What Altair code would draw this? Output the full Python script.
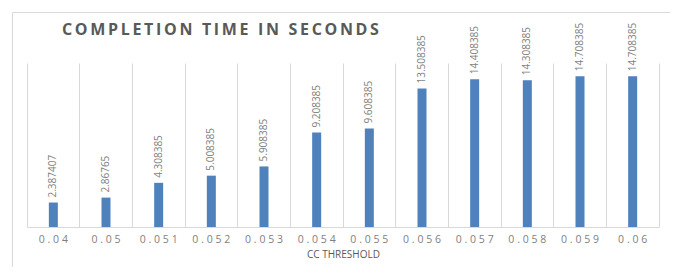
import altair as alt
import pandas as pd

categories = ["0.04", "0.05", "0.051", "0.052", "0.053", "0.054",
              "0.055", "0.056", "0.057", "0.058", "0.059", "0.06"]
values = [2.387407, 2.86765, 4.308385, 5.008385, 5.908385, 9.208385,
          9.608385, 13.508385, 14.408385, 14.308385, 14.708385, 14.708385]
value_labels = ["2.387407", "2.86765", "4.308385", "5.008385", "5.908385", "9.208385",
                "9.608385", "13.508385", "14.408385", "14.308385", "14.708385", "14.708385"]

title_text = "COMPLETION TIME IN SECONDS"
x_title = "CC THRESHOLD"

df = pd.DataFrame({"threshold": categories, "time": values, "label": value_labels})

GRAY = "#595959"
LIGHT = "#7f7f7f"
LINE = "#d9d9d9"
FONT = "Open Sans"

gap = "\u2006"
spaced_title = gap.join(list(title_text))

x_enc = alt.X(
    "threshold:N", sort=categories, title=x_title,
    scale=alt.Scale(paddingInner=0, paddingOuter=0),
    axis=alt.Axis(labelAngle=0, grid=True, bandPosition=0, gridColor=LINE,
                  ticks=False, domainColor=LINE, labelPadding=7,
                  labelFontSize=10.5, labelColor=LIGHT, labelFont=FONT,
                  labelExpr="join(split(datum.label, ''), '\u2009\u200a')",
                  titleFontSize=10, titleFontWeight="normal", titleColor=GRAY,
                  titleFont=FONT, titlePadding=5),
)
y_enc = alt.Y(
    "time:Q", scale=alt.Scale(domain=[0, 16]),
    axis=alt.Axis(orient="right", labels=False, ticks=False, grid=False,
                  title=None, domainColor=LINE),
)

base = alt.Chart(df)
bars = base.mark_bar(size=9, color="#4f81bd").encode(x=x_enc, y=y_enc)
texts = base.mark_text(angle=270, align="left", baseline="middle", dx=5,
                       fontSize=10, color=LIGHT, font=FONT).encode(
    x=alt.X("threshold:N", sort=categories), y="time:Q", text="label:N")

frame = alt.Chart(pd.DataFrame({"a": [0]})).mark_rect(
    fill=None, stroke=LINE, strokeWidth=1).encode(
    x=alt.value(-14.5), x2=alt.value(645.5), y=alt.value(-50.5), y2=alt.value(260))

title = alt.Chart(pd.DataFrame({"t": [spaced_title]})).mark_text(
    align="left", baseline="middle", fontSize=16, font=FONT, fontWeight="bold",
    color=GRAY).encode(x=alt.value(35), y=alt.value(-33), text="t:N")

chart = alt.layer(frame, bars, texts, title).properties(
    width=632, height=164,
    autosize=alt.AutoSizeParams(type="none"),
    padding={"left": 19, "top": 55, "right": 11, "bottom": 40},
).configure_view(stroke=None)

chart.save("out.html", embed_options={"renderer": "svg", "actions": False})
